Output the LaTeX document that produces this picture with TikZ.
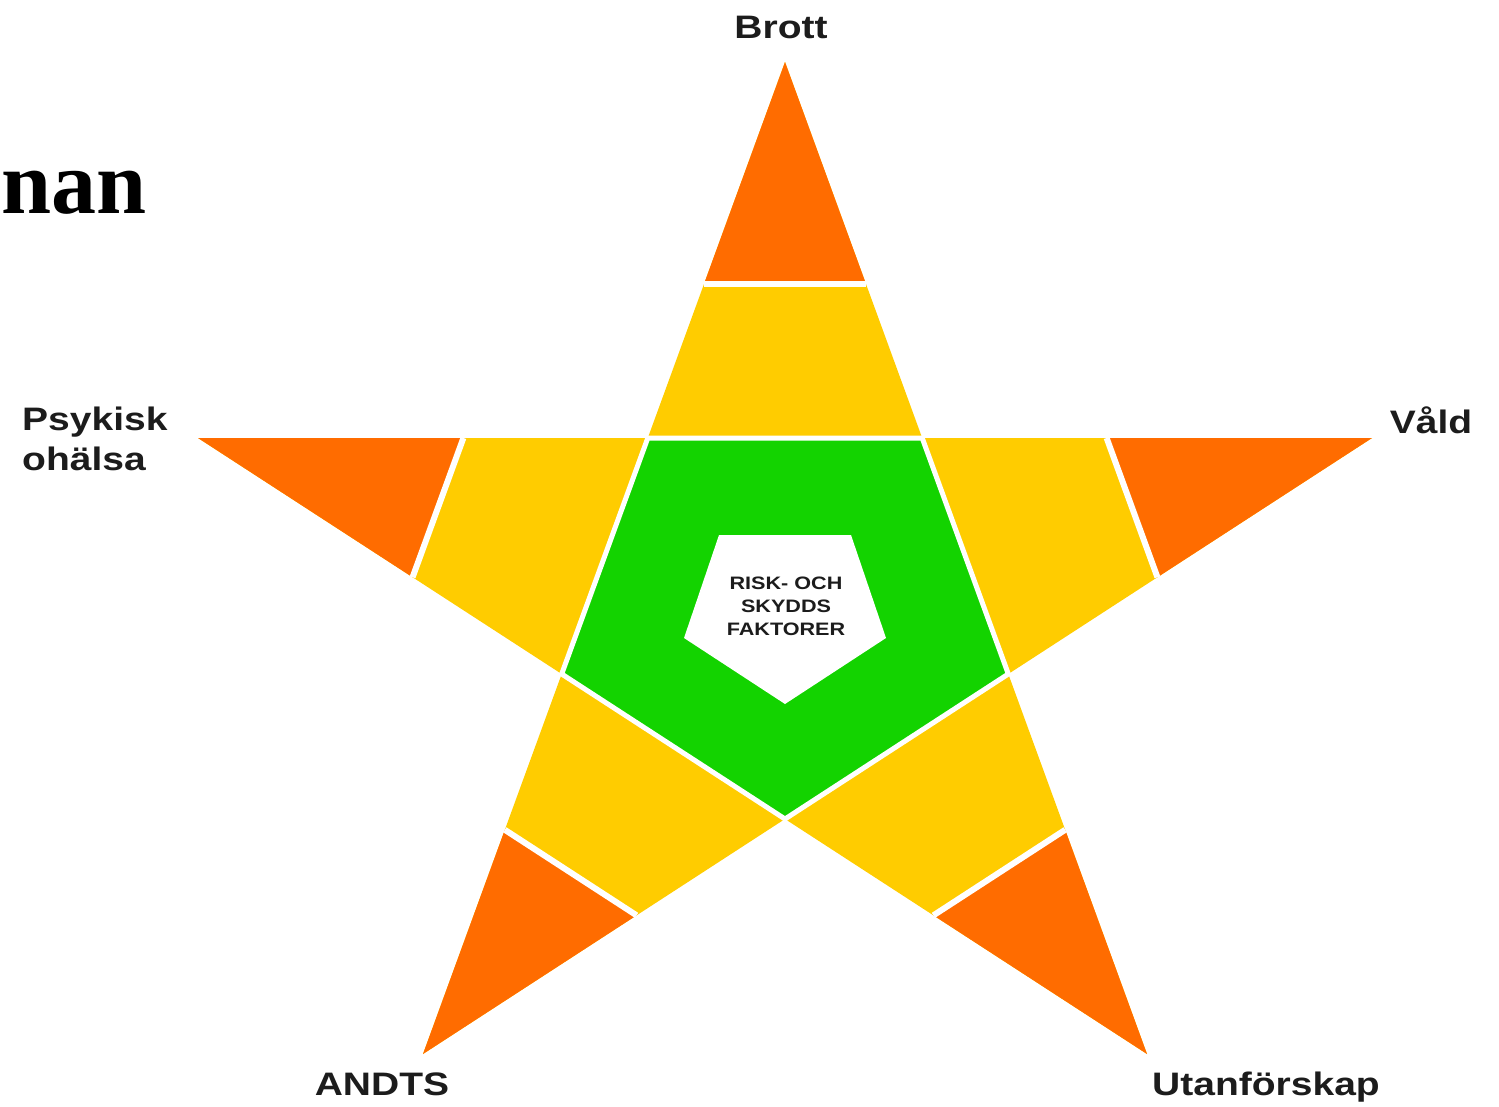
\documentclass[tikz,border=0pt]{standalone}
\usepackage{fontspec}
\newfontfamily\labfont{Liberation Sans}[FakeStretch=1.2]
\newfontfamily\titlefont{Liberation Serif}
\usetikzlibrary{calc}
\definecolor{starorange}{RGB}{255,108,0}
\definecolor{staryellow}{RGB}{255,204,0}
\definecolor{stargreen}{RGB}{19,211,0}
\definecolor{labgray}{RGB}{28,28,28}
\begin{document}
\begin{tikzpicture}[x=1pt,y=-1pt,
  lab/.style={font=\labfont\bfseries\fontsize{32.5}{40}\selectfont, text=labgray, inner sep=0pt},
  centertext/.style={font=\labfont\bfseries\fontsize{18}{23}\selectfont, text=labgray, inner sep=0pt, align=center},
  cutline/.style={white, line width=6pt},
  edgeline/.style={white, line width=5pt}]
\useasboundingbox (0,0) rectangle (1499,1106);
\clip (0,0) rectangle (1499,1106);
% star tips
\coordinate (T) at (785,62);
\coordinate (R) at (1372,438);
\coordinate (BR) at (1147,1054);
\coordinate (BL) at (423,1054);
\coordinate (L) at (198,438);
% inner vertices
\coordinate (A) at (647.8,438);
\coordinate (B) at (922.2,438);
\coordinate (C) at (1008.3,674);
\coordinate (D) at (785,819);
\coordinate (E) at (561.7,674);
\def\f{0.59}
% yellow star body
\fill[staryellow] (T) -- (B) -- (R) -- (C) -- (BR) -- (D) -- (BL) -- (E) -- (L) -- (A) -- cycle;
% orange tips
\fill[starorange] (T) -- ($(T)!\f!(B)$) -- ($(T)!\f!(A)$) -- cycle;
\fill[starorange] (R) -- ($(R)!\f!(B)$) -- ($(R)!\f!(C)$) -- cycle;
\fill[starorange] (BR) -- ($(BR)!\f!(C)$) -- ($(BR)!\f!(D)$) -- cycle;
\fill[starorange] (BL) -- ($(BL)!\f!(D)$) -- ($(BL)!\f!(E)$) -- cycle;
\fill[starorange] (L) -- ($(L)!\f!(E)$) -- ($(L)!\f!(A)$) -- cycle;
% green pentagon
\fill[stargreen] (A) -- (B) -- (C) -- (D) -- (E) -- cycle;
% white separators
\draw[edgeline] (A) -- (B) -- (C) -- (D) -- (E) -- cycle;
\draw[cutline] ($(T)!\f!(B)$) -- ($(T)!\f!(A)$);
\draw[cutline] ($(R)!\f!(B)$) -- ($(R)!\f!(C)$);
\draw[cutline] ($(BR)!\f!(C)$) -- ($(BR)!\f!(D)$);
\draw[cutline] ($(BL)!\f!(D)$) -- ($(BL)!\f!(E)$);
\draw[cutline] ($(L)!\f!(E)$) -- ($(L)!\f!(A)$);
% inner white pentagon
\fill[white] (719,535) -- (851,535) -- (886,638) -- (785,704) -- (684,638) -- cycle;
\node[centertext] (center) at (786,606) {RISK- OCH\\SKYDDS\\FAKTORER};
% labels
\node[lab, anchor=base] (brott) at (781,38) {Brott};
\node[lab, anchor=base west] (psyk1) at (22,430) {Psykisk};
\node[lab, anchor=base west] (psyk2) at (22,470) {ohälsa};
\node[lab, anchor=base] (vald) at (1431,433) {Våld};
\node[lab, anchor=base] (andts) at (382,1095) {ANDTS};
\node[lab, anchor=base] (utan) at (1266,1095) {Utanförskap};
\node[font=\titlefont\bfseries\fontsize{90}{96}\selectfont, inner sep=0pt, anchor=base west] (title) at (1,213) {nan};
\end{tikzpicture}
\end{document}
